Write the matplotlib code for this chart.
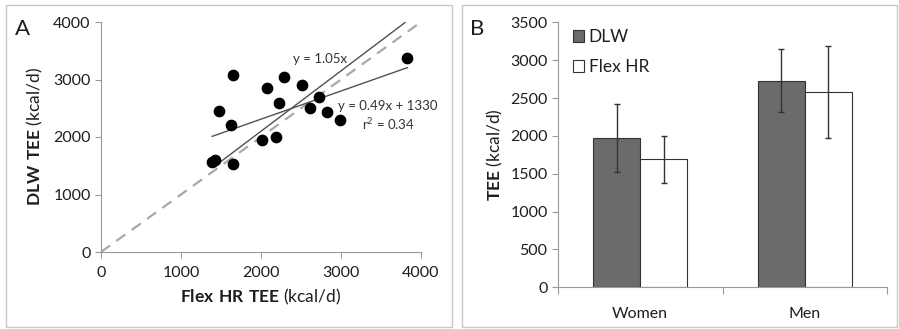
import numpy as np
import matplotlib.pyplot as plt
from matplotlib.patches import Rectangle

plt.rcParams['font.family'] = ['Lato', 'DejaVu Sans']
plt.rcParams['mathtext.fontset'] = 'custom'
plt.rcParams['mathtext.rm'] = 'Lato'
plt.rcParams['mathtext.bf'] = 'Lato:bold'

# Panel A data (Flex HR TEE vs DLW TEE, kcal/d)
flex_tee = [1390, 1430, 1650, 1480, 1630, 1650, 2010, 2190, 2230, 2080,
            2290, 2510, 2610, 2720, 2830, 2990, 3830]
dlw_tee = [1560, 1600, 1530, 2450, 2210, 3080, 1950, 2000, 2590, 2860,
           3050, 2910, 2510, 2690, 2440, 2300, 3370]
slope_origin = 1.05
reg_slope, reg_icpt = 0.49, 1330

# Panel B data
groups = ['Women', 'Men']
dlw_mean = [1970, 2730]
dlw_sd = [450, 415]
flex_mean = [1690, 2580]
flex_sd = [310, 610]

fig = plt.figure(figsize=(8.99, 3.29), dpi=100)
W, H = 899, 329

# panel frames
for x0, x1 in [(6, 452), (462, 897)]:
    fig.patches.append(Rectangle((x0 / W, 2 / H), (x1 - x0) / W, (324 - 2) / H,
                                 transform=fig.transFigure, fill=False,
                                 edgecolor='#c8c8c8', lw=1.0))

axis_col = '#9a9a9a'
txt_col = '#1e1e1e'
tick_fs = 11.5

# ---- Panel A ----
ax = fig.add_axes([101 / W, 1 - 252 / H, 320 / W, 230 / H])
ax.plot([0, 4000], [0, 4000], ls=(0, (5, 3.5)), color='#a8a8a8', lw=1.6)
xr = np.array([min(flex_tee) + 30, max(flex_tee) - 30])
ax.plot(xr, slope_origin * xr, color='#505050', lw=1.0)
xr2 = np.array([min(flex_tee), max(flex_tee)])
ax.plot(xr2, reg_slope * xr2 + reg_icpt, color='#505050', lw=1.0)
ax.scatter(flex_tee, dlw_tee, s=55, color='black', zorder=3)
ax.text(2737, 3357, 'y = 1.05x', fontsize=9.5, ha='center', va='center', color='#333333')
ax.text(3590, 2540, 'y = 0.49x + 1330', fontsize=9.5, ha='center', va='center', color='#333333')
ax.text(3590, 2226, 'r$^2$ = 0.34', fontsize=9.5, ha='center', va='center', color='#333333')
ax.set_xlim(0, 4000)
ax.set_ylim(0, 4000)
ax.set_xticks([0, 1000, 2000, 3000, 4000])
ax.set_yticks([0, 1000, 2000, 3000, 4000])
for s in ['top', 'right']:
    ax.spines[s].set_visible(False)
for s in ['left', 'bottom']:
    ax.spines[s].set_color(axis_col)
ax.tick_params(colors=axis_col, labelcolor=txt_col, labelsize=tick_fs, length=4, direction='out')
ax.tick_params(axis='x', pad=6)
ax.set_xlabel(r'$\bf{Flex\ HR\ TEE}$ (kcal/d)', fontsize=12.5, labelpad=5, color=txt_col)
ax.set_ylabel(r'$\bf{DLW\ TEE}$ (kcal/d)', fontsize=12.5, labelpad=6, color=txt_col)
fig.text(15 / W, 1 - 29 / H, 'A', fontsize=16, va='center', ha='left', color=txt_col)

# ---- Panel B ----
bx = fig.add_axes([558 / W, 1 - 287.3 / H, 329 / W, 265 / H])
xpos = np.arange(len(groups))
bw = 0.285
bx.bar(xpos - bw / 2, dlw_mean, bw, color='#6b6b6b', edgecolor='#333333', lw=0.8,
       label='DLW', yerr=dlw_sd, error_kw=dict(ecolor='#333333', elinewidth=1, capsize=2.5))
bx.bar(xpos + bw / 2, flex_mean, bw, color='white', edgecolor='#333333', lw=0.8,
       label='Flex HR', yerr=flex_sd, error_kw=dict(ecolor='#333333', elinewidth=1, capsize=2.5))
bx.set_xlim(-0.5, 1.5)
bx.set_ylim(0, 3500)
bx.set_yticks(range(0, 3501, 500))
bx.set_xticks([-0.5, 0.5, 1.5], minor=False)
bx.set_xticklabels(['', '', ''])
bx.set_xticks(xpos, minor=True)
bx.set_xticklabels(groups, minor=True)
bx.tick_params(axis='x', which='minor', length=0, pad=14, labelsize=tick_fs, labelcolor=txt_col)
bx.tick_params(axis='x', which='major', length=5, direction='out', colors=axis_col)
bx.tick_params(axis='y', colors=axis_col, labelcolor=txt_col, labelsize=tick_fs, length=4, direction='out')
for s in ['top', 'right']:
    bx.spines[s].set_visible(False)
for s in ['left', 'bottom']:
    bx.spines[s].set_color(axis_col)
bx.set_ylabel(r'$\bf{TEE}$ (kcal/d)', fontsize=12.5, labelpad=4, color=txt_col)
bx.legend(loc='upper left', bbox_to_anchor=(0.025, 1.0), borderaxespad=0, frameon=False,
          fontsize=12.5, handlelength=0.65, handleheight=0.65, handletextpad=0.25,
          labelspacing=0.8, labelcolor=txt_col)
fig.text(470 / W, 1 - 29 / H, 'B', fontsize=16, va='center', ha='left', color=txt_col)

fig.savefig('out.png', dpi=100)
